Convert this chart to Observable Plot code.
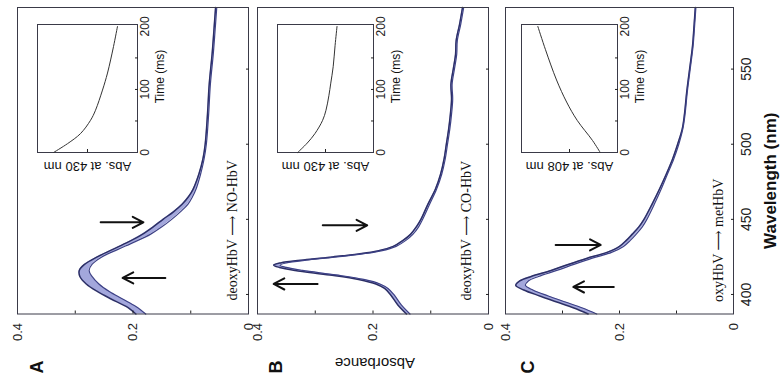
<!DOCTYPE html>
<html><head><meta charset="utf-8">
<script src="https://cdn.jsdelivr.net/npm/d3@7"></script>
<script src="https://cdn.jsdelivr.net/npm/@observablehq/plot@0.6"></script>
<style>
html,body{margin:0;padding:0;background:#fff;overflow:hidden;}
#fig{position:relative;width:784px;height:386px;overflow:hidden;}
#fig svg{position:absolute;}
</style></head><body><div id="fig"></div>
<script>
// ---------- Data ----------
// Panel A: deoxyHbV -> NO-HbV, two edge spectra of the spectral series
const wlA   = [387, 392, 397, 402, 407, 412, 416, 420, 425, 430, 435, 440, 445, 450, 455, 460, 465, 470, 480, 490, 500, 520, 540, 560, 575, 591];
const absA1 = [0.195,0.212,0.238,0.262,0.281,0.292,0.293,0.284,0.262,0.235,0.208,0.184,0.165,0.148,0.130,0.115,0.104,0.096,0.086,0.079,0.075,0.071,0.068,0.063,0.060,0.057];
const absA2 = [0.178,0.195,0.218,0.241,0.259,0.271,0.276,0.271,0.254,0.226,0.197,0.170,0.150,0.133,0.118,0.105,0.097,0.091,0.083,0.077,0.073,0.069,0.066,0.061,0.058,0.055];
// Panel B: deoxyHbV -> CO-HbV
const wlB   = [387, 393, 400, 404, 407, 410, 413, 416, 418, 419.5, 421, 423, 425, 427, 429, 432, 436, 440, 445, 450, 460, 470, 480, 490, 500, 510, 520, 530, 540, 550, 560, 569, 580, 591];
const absB1 = [0.142,0.157,0.170,0.180,0.195,0.225,0.275,0.335,0.362,0.372,0.360,0.320,0.270,0.225,0.192,0.165,0.148,0.135,0.125,0.117,0.105,0.092,0.083,0.077,0.073,0.069,0.066,0.064,0.065,0.061,0.057,0.056,0.050,0.045];
const absB2 = [0.136,0.151,0.164,0.174,0.188,0.216,0.264,0.322,0.350,0.361,0.350,0.311,0.262,0.218,0.186,0.160,0.143,0.131,0.121,0.114,0.102,0.090,0.081,0.075,0.071,0.067,0.064,0.062,0.063,0.059,0.055,0.054,0.048,0.043];
// Panel C: oxyHbV -> metHbV
const wlC   = [387, 391, 395, 399, 403, 406, 409, 412, 416, 420, 424, 428, 432, 436, 440, 445, 450, 460, 470, 480, 490, 500, 510, 520, 535, 550, 565, 580, 591];
const absC1 = [0.255,0.280,0.310,0.340,0.368,0.382,0.375,0.355,0.320,0.290,0.258,0.222,0.200,0.188,0.178,0.166,0.157,0.143,0.130,0.118,0.107,0.098,0.090,0.086,0.082,0.077,0.072,0.069,0.067];
const absC2 = [0.240,0.265,0.295,0.325,0.352,0.365,0.360,0.342,0.310,0.280,0.249,0.214,0.193,0.181,0.171,0.160,0.152,0.139,0.127,0.116,0.105,0.096,0.089,0.085,0.081,0.076,0.071,0.068,0.066];

// Inset kinetics (time in ms, relative absorbance)
const insetTimeA = [0, 14, 30, 51, 67, 99, 126, 168, 200];
const insetAbsA  = [0.84, 0.70, 0.57, 0.47, 0.42, 0.35, 0.30, 0.24, 0.20];
const insetTimeB = [0, 15, 30, 51, 67, 90, 110, 136, 170, 200];
const insetAbsB  = [0.79, 0.69, 0.61, 0.53, 0.495, 0.465, 0.445, 0.42, 0.40, 0.38];
const insetTimeC = [0, 19, 51, 80, 115, 163, 200];
const insetAbsC  = [0.18, 0.26, 0.42, 0.53, 0.635, 0.75, 0.83];

// Direction arrows (wavelength, absorbance from -> to)
const arrowWlA = [411, 448], arrowFromA = [0.144, 0.256], arrowToA = [0.218, 0.182];
const arrowWlB = [407, 446], arrowFromB = [0.296, 0.287], arrowToB = [0.372, 0.210];
const arrowWlC = [405, 433], arrowFromC = [0.210, 0.312], arrowToC = [0.281, 0.233];

// Text
const panelLetters = ["A", "B", "C"];
const noteText = ["deoxyHbV \u27F6 NO-HbV", "deoxyHbV \u27F6 CO-HbV", "oxyHbV \u27F6 metHbV"];
const noteAbs = [0.028, 0.038, 0.026];
const noteWl = [396, 396, 395];
const insetLabels = ["Abs. at 430 nm", "Abs. at 430 nm", "Abs. at 408 nm"];
const absTicks = [0.4, 0.2, 0];
const absMinorTicks = [0.3, 0.2, 0.1];
const wlTicks = [400, 450, 500, 550];
const timeTicks = [0, 100, 200];
const timeMinorTicks = [50, 100, 150];

// ---------- Drawing ----------
const sans = '"Liberation Sans", Arial, Helvetica, sans-serif';
const serif = '"Liberation Serif", "Times New Roman", "DejaVu Serif", serif';
const fig = document.getElementById("fig");
const wlDomain = [387, 591];
const centered = {textAnchor: "middle", lineAnchor: "middle"};

function place(svg, left, top) {
  svg.style.left = left + "px";
  svg.style.top = top + "px";
  fig.appendChild(svg);
}

function makePanel(i, wl, a1, a2, aw, af, at, box) {
  const data = wl.map((w, k) => ({wl: w, hi: a1[k], lo: a2[k]}));
  const arrows = aw.map((w, k) => ({wl: w, from: af[k], to: at[k]}));
  const note = [{text: noteText[i], abs: noteAbs[i], wl: noteWl[i]}];
  const marks = [
    Plot.areaX(data, {y: "wl", x1: "lo", x2: "hi", fill: "#a3a7dc", curve: "catmull-rom"}),
    Plot.line(data, {x: "hi", y: "wl", stroke: "#2c2f66", strokeWidth: 1.5, curve: "catmull-rom"}),
    Plot.line(data, {x: "lo", y: "wl", stroke: "#3d4186", strokeWidth: 1.2, curve: "catmull-rom"}),
    Plot.arrow(arrows, {x1: "from", x2: "to", y1: "wl", y2: "wl", stroke: "#111", strokeWidth: 2, headLength: 9, headAngle: 55}),
    Plot.text(note, {x: "abs", y: "wl", text: "text", rotate: -90, textAnchor: "start", fontFamily: serif, fontSize: 14, fill: "#111"}),
    Plot.frame({stroke: "#3a3a48"}),
    Plot.axisX({anchor: "bottom", ticks: absTicks, tickFormat: d => d === 0 ? "0" : d.toFixed(1), tickRotate: -90, tickSize: 0, tickPadding: 9, fontSize: 13, label: null}),
    Plot.axisX({anchor: "bottom", ticks: absMinorTicks, tickSize: -3, fill: "none", label: null}),
    Plot.axisY({anchor: "right", ticks: wlTicks, tickSize: -3, fill: "none", label: null}),
    Plot.text([panelLetters[i]], {frameAnchor: "bottom-left", dx: box.letterDx, dy: 53, rotate: -90, fontWeight: "bold", fontSize: 18, fill: "#111", ...centered})
  ];
  if (i === 1) {
    marks.push(Plot.text(["Absorbance"], {frameAnchor: "bottom", dx: 2, dy: 49, rotate: 180, fontSize: 15, fill: "#111", ...centered}));
  }
  if (i === 2) {
    marks.push(Plot.axisY({anchor: "right", ticks: wlTicks, tickSize: 0, tickRotate: -90, lineAnchor: "top", tickPadding: 8, fontSize: 14, label: null}));
    marks.push(Plot.text(["Wavelength (nm)"], {frameAnchor: "right", dx: 37, dy: 20, rotate: -90, fontWeight: "bold", fontSize: 17, fill: "#111", ...centered}));
  }
  const svg = Plot.plot({
    width: box.width, height: 386,
    marginLeft: box.ml, marginRight: box.mr, marginTop: 7, marginBottom: 72.5,
    x: {domain: [0, 0.4], reverse: true},
    y: {domain: wlDomain},
    style: {fontFamily: sans, background: "transparent", overflow: "visible", color: "#222"},
    marks
  });
  place(svg, box.left, 0);
}

function makeInset(i, t, a, box) {
  const data = t.map((v, k) => ({t: v, a: a[k]}));
  const svg = Plot.plot({
    width: 5 + box.w + 45, height: 5 + 128 + 28,
    marginLeft: 5, marginRight: 45, marginTop: 5, marginBottom: 28,
    x: {domain: [0, 1], reverse: true},
    y: {domain: [0, 203]},
    style: {fontFamily: sans, background: "transparent", overflow: "visible", color: "#222"},
    marks: [
      Plot.frame({fill: "white", stroke: "#3a3a48"}),
      Plot.line(data, {x: "a", y: "t", stroke: "#333", strokeWidth: 1, curve: "catmull-rom"}),
      Plot.axisY({anchor: "right", ticks: timeTicks, tickSize: 0, tickRotate: -90, lineAnchor: "top", tickPadding: 3, fontSize: 12, label: null}),
      Plot.axisY({anchor: "right", ticks: timeMinorTicks, tickSize: -3, fill: "none", label: null}),
      Plot.axisX({anchor: "bottom", ticks: [0.5], tickSize: -3, fill: "none", label: null}),
      Plot.text(["Time (ms)"], {frameAnchor: "right", dx: 23, dy: -12, rotate: -90, fontSize: 12, fill: "#111", ...centered}),
      Plot.text([insetLabels[i]], {frameAnchor: "bottom", dy: 14, rotate: 180, fontSize: 13, fill: "#111", ...centered})
    ]
  });
  place(svg, box.left - 5, 24 - 5);
}

makePanel(0, wlA, absA1, absA2, arrowWlA, arrowFromA, arrowToA, {left: 0, width: 253, ml: 17, mr: 5, letterDx: 20});
makePanel(1, wlB, absB1, absB2, arrowWlB, arrowFromB, arrowToB, {left: 253, width: 244, ml: 4, mr: 9, letterDx: 19});
makePanel(2, wlC, absC1, absC2, arrowWlC, arrowFromC, arrowToC, {left: 497, width: 287, ml: 8, mr: 51, letterDx: 23});

makeInset(0, insetTimeA, insetAbsA, {left: 37, w: 100});
makeInset(1, insetTimeB, insetAbsB, {left: 277, w: 96});
makeInset(2, insetTimeC, insetAbsC, {left: 521, w: 96});
</script>
</body></html>
